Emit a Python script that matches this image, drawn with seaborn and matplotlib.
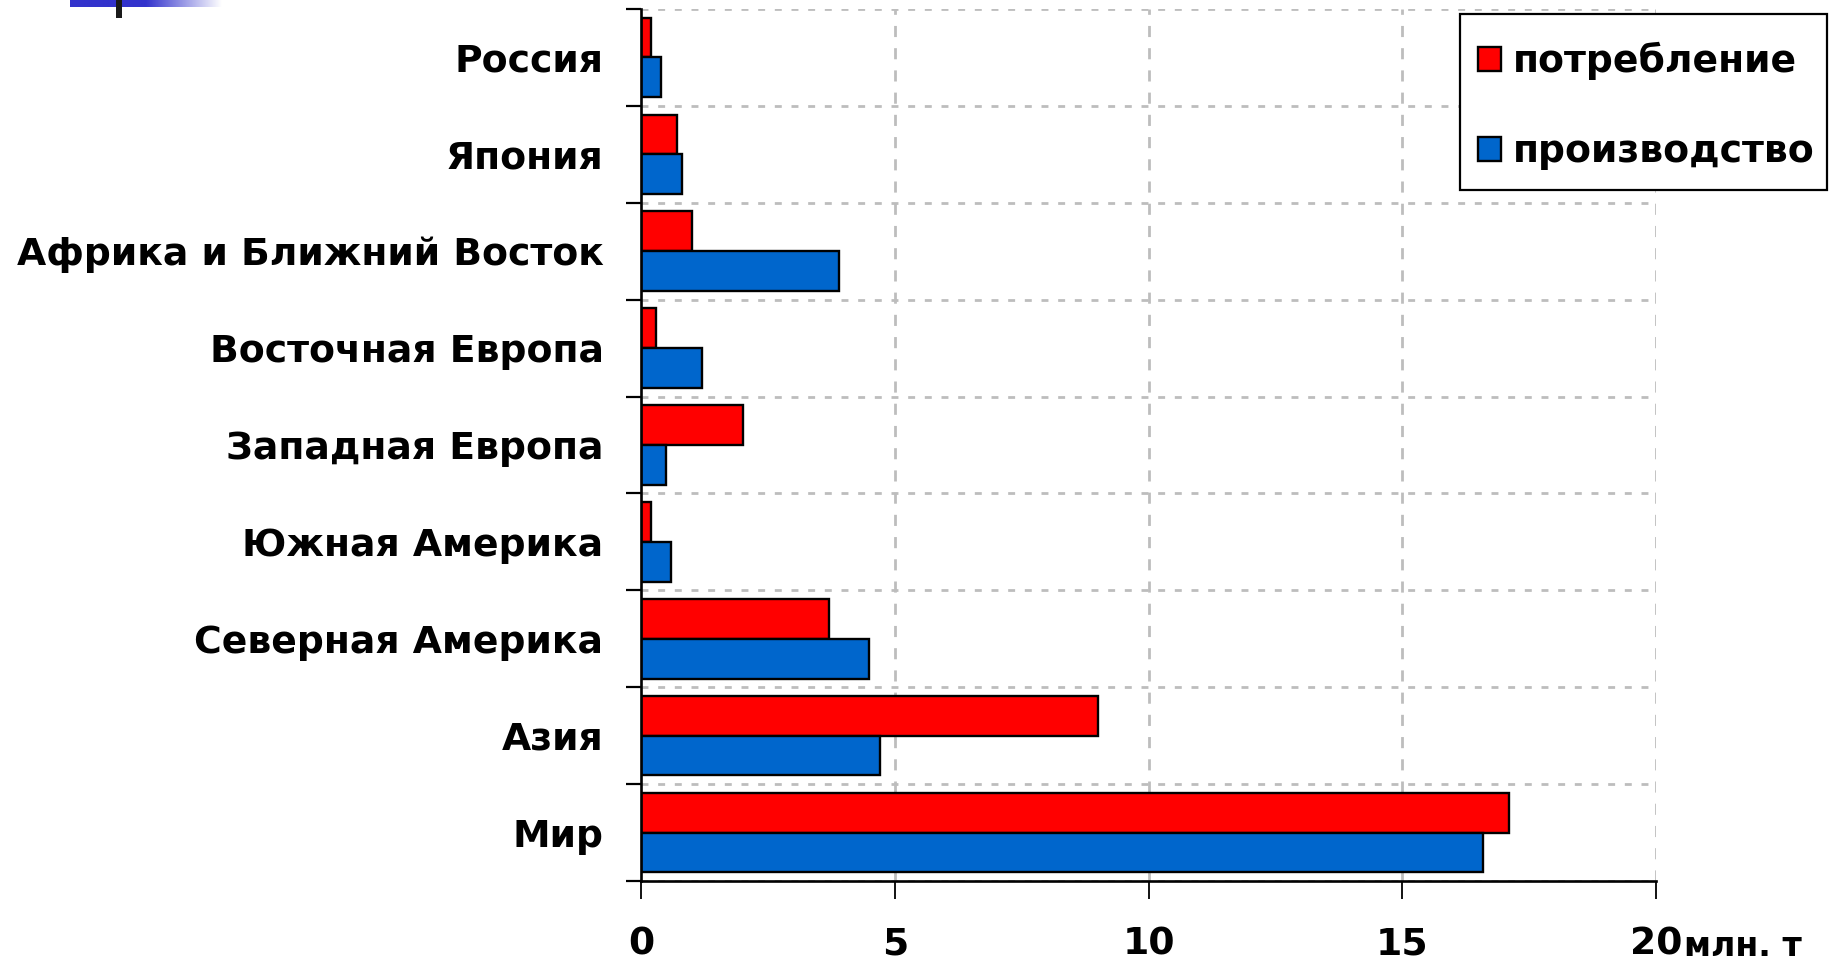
import numpy as np
import pandas as pd
import matplotlib
matplotlib.use("Agg")
import matplotlib.pyplot as plt
import seaborn as sns
from matplotlib.ticker import FixedLocator

categories = ["Россия", "Япония", "Африка и Ближний Восток", "Восточная Европа",
              "Западная Европа", "Южная Америка", "Северная Америка", "Азия", "Мир"]
consumption = [0.2, 0.7, 1.0, 0.3, 2.0, 0.2, 3.7, 9.0, 17.1]
production = [0.4, 0.8, 3.9, 1.2, 0.5, 0.6, 4.5, 4.7, 16.6]
series_names = ["потребление", "производство"]
x_ticks = [0, 5, 10, 15, 20]
x_unit = "млн. т"

df = pd.DataFrame({
    "region": categories * 2,
    "value": consumption + production,
    "series": [series_names[0]] * len(categories) + [series_names[1]] * len(categories),
})

sns.set_theme(style="white")
plt.rcParams["font.family"] = ["DejaVu Sans"]
FS = 27.2

W, H = 1836, 963
fig = plt.figure(figsize=(W / 100, H / 100), dpi=100)
ax = fig.add_axes([641 / W, 1 - 881 / H, (1656 - 641) / W, (881 - 9) / H])

sns.barplot(data=df, y="region", x="value", hue="series", order=categories,
            hue_order=series_names, palette=["#FF0000", "#0066CC"],
            edgecolor="black", linewidth=1.7, width=0.82, saturation=1,
            orient="h", ax=ax, legend=True)

ax.set_xlim(0, 20)
ax.set_ylim(len(categories) - 0.5, -0.5)
ax.set_xlabel("")
ax.set_ylabel("")
ax.set_xticks(x_ticks)
ax.set_xticklabels([str(t) for t in x_ticks], fontsize=FS, fontweight="bold")
ax.yaxis.set_minor_locator(FixedLocator(np.arange(-0.5, len(categories), 1.0)))
for lab in ax.get_yticklabels():
    lab.set_fontsize(FS)
    lab.set_fontweight("bold")
    lab.set_color("black")
for lab in ax.get_xticklabels():
    lab.set_color("black")

ax.tick_params(axis="y", which="major", length=0, pad=27)
ax.tick_params(axis="y", which="minor", left=True, length=11, width=1.6, color="black", direction="out")
ax.tick_params(axis="x", which="major", bottom=True, length=13, width=1.3, color="black", direction="out", pad=20)

ax.grid(False)
ax.set_axisbelow(True)
for xv in x_ticks[1:]:
    ax.axvline(xv, color="#BDBDBD", linestyle=(0, (4, 4)), linewidth=2.0, zorder=0)
ax.yaxis.grid(True, which="minor", color="#BDBDBD", linestyle=(0, (2.5, 3.5)), linewidth=2.0)

for s in ["top", "right"]:
    ax.spines[s].set_visible(False)
for s in ["left", "bottom"]:
    ax.spines[s].set_color("black")
    ax.spines[s].set_linewidth(1.9)

# legend: entries without frame, frame drawn as a rectangle under them
sns.move_legend(ax, "center left", bbox_to_anchor=(1478 / W, 1 - 106 / H),
                bbox_transform=fig.transFigure, title=None, frameon=False,
                prop={"weight": "bold", "size": FS},
                handlelength=0.6, handleheight=0.6, handletextpad=0.33,
                labelspacing=1.43, borderpad=0, borderaxespad=0)
leg = ax.get_legend()
leg.set_zorder(10)
for t in leg.get_texts():
    t.set_color("black")
frame = plt.Rectangle((1460 / W, 1 - 190 / H), (1827 - 1460) / W, (190 - 14) / H,
                      transform=fig.transFigure, facecolor="white", edgecolor="black",
                      linewidth=1.6, zorder=9, clip_on=False)
ax.add_patch(frame)

fig.text(1684 / W, 1 - 930 / H, x_unit, fontsize=FS * 0.88, fontweight="bold",
         ha="left", va="top", color="black")

# slide decoration top-left
dax = fig.add_axes([70 / W, 1 - 7 / H, (222 - 70) / W, 7 / H])
dax.axis("off")
n = 200
grad = np.ones((1, n, 3))
base = np.array([0x33, 0x33, 0xCC]) / 255.0
for i in range(n):
    f = i / (n - 1)
    a = 1.0 if f < 0.5 else max(0.0, 1 - (f - 0.5) / 0.5)
    grad[0, i] = base * a + (1 - a)
dax.imshow(grad, aspect="auto", extent=[0, 1, 0, 1])
bax = fig.add_axes([116 / W, 1 - 18 / H, 6 / W, 18 / H])
bax.axis("off")
bax.add_patch(plt.Rectangle((0, 0), 1, 1, color="#1A1A1A", transform=bax.transAxes))

fig.savefig("out.png", dpi=100)
